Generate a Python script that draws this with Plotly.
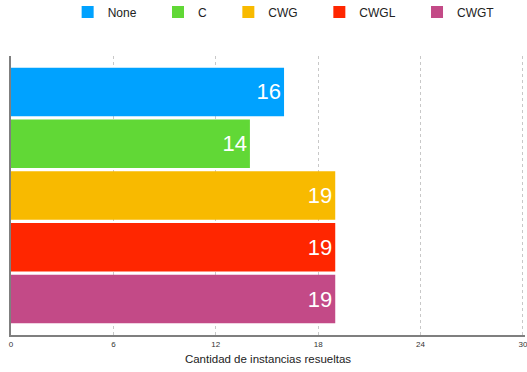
import plotly.graph_objects as go

# Instances solved per configuration
series = ["None", "C", "CWG", "CWGL", "CWGT"]
solved = [16, 14, 19, 19, 19]
colors = ["#00A2FF", "#61D836", "#F8BA00", "#FF2600", "#C34A87"]
category = ["Instancias"]
x_ticks = [0, 6, 12, 18, 24, 30]

# extra room after each legend label
PAD = "\u00a0" * 5

fig = go.Figure()
for name, val, col in zip(series, solved, colors):
    fig.add_trace(go.Bar(
        name=name + PAD,
        y=category,
        x=[val],
        orientation="h",
        marker=dict(color=col, line=dict(width=0)),
        text=[str(val)],
        textposition="inside",
        insidetextanchor="end",
        textangle=0,
        textfont=dict(family="Liberation Sans, Arial, sans-serif", size=22, color="white"),
    ))

fig.update_layout(
    width=527,
    height=372,
    margin=dict(l=11, r=2, t=56, b=37, autoexpand=False),
    paper_bgcolor="white",
    plot_bgcolor="white",
    barmode="group",
    bargap=0.072,
    bargroupgap=0.065,
    font=dict(family="Liberation Sans, Arial, sans-serif", color="#222222"),
    showlegend=True,
    legend=dict(
        orientation="h",
        x=0.546, xanchor="center",
        y=0.968, yanchor="middle",
        yref="container",
        font=dict(size=12, color="#222222"),
        traceorder="normal",
    ),
    xaxis=dict(
        range=[0, 30.12],
        tickvals=x_ticks,
        ticktext=[str(t) for t in x_ticks],
        tickfont=dict(size=8, color="#333333"),
        ticklabeloverflow="allow",
        automargin=False,
        showgrid=True,
        gridcolor="#c8c8c8",
        griddash="dot",
        gridwidth=1,
        showline=True,
        linecolor="#7f7f7f",
        linewidth=2,
        ticks="",
        zeroline=False,
        title=dict(text="Cantidad de instancias resueltas",
                   font=dict(size=11.5, color="#222222"), standoff=7),
    ),
    yaxis=dict(
        autorange="reversed",
        automargin=False,
        showticklabels=False,
        showgrid=False,
        showline=True,
        linecolor="#7f7f7f",
        linewidth=2,
        ticks="",
        zeroline=False,
    ),
)

fig.write_html("out.html")
